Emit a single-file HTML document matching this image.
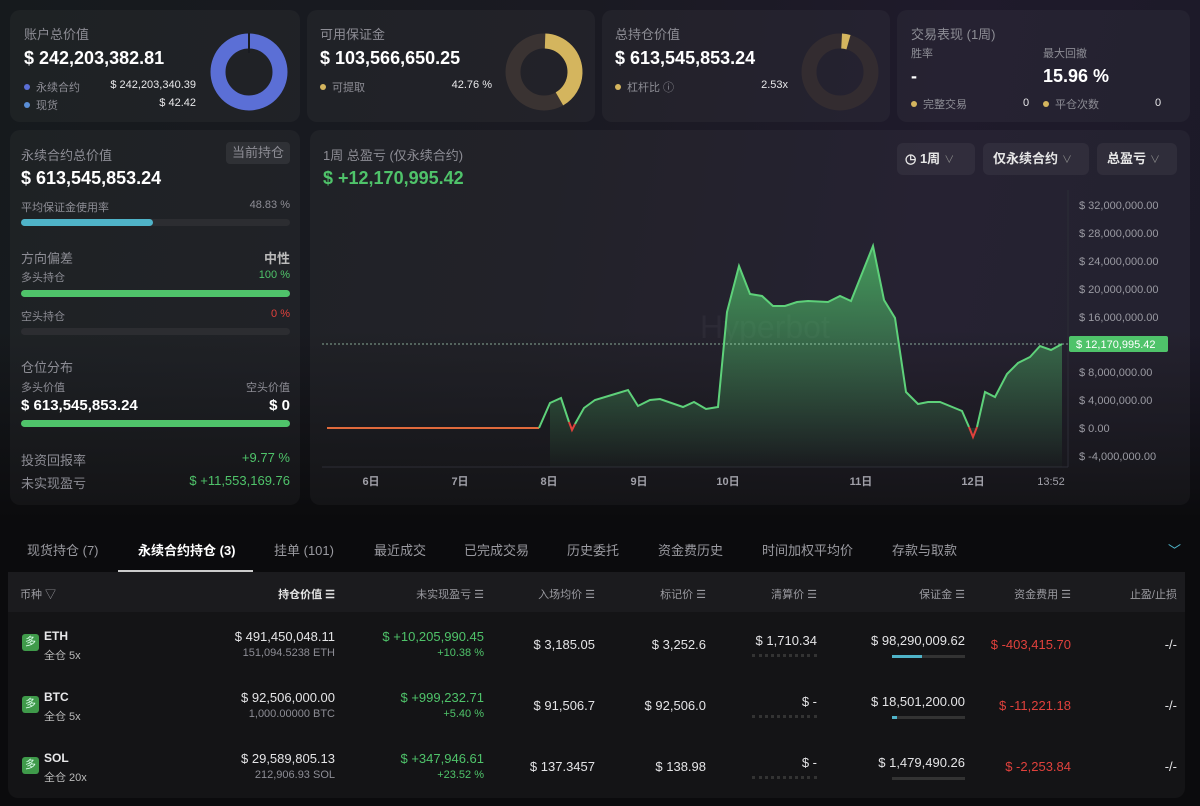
<!DOCTYPE html>
<html><head><meta charset="utf-8">
<style>
*{margin:0;padding:0;box-sizing:border-box}
body{width:1200px;height:806px;overflow:hidden;background:#0b0b0d;font-family:"Liberation Sans","Noto Sans CJK SC",sans-serif;color:#e8e8ea;position:relative}
.bg{position:absolute;left:0;top:0;width:1200px;height:515px;background:linear-gradient(100deg,#161a1d 0%,#1a1a22 45%,#1f1a2b 75%,#1c1a28 100%)}
.bg2{position:absolute;left:0;top:330px;width:1200px;height:190px;background:linear-gradient(180deg,rgba(11,11,13,0),#0b0b0d)}
.a{position:absolute;white-space:nowrap}
.card{position:absolute;background:rgba(255,255,255,0.035);border-radius:10px}
.g{color:#8d8d95}
.lbl{font-size:13px;color:#8d8d95}
.big{font-size:18px;font-weight:bold;color:#fff}
.s{font-size:11px}
.dot{display:inline-block;width:6px;height:6px;border-radius:3px;margin-right:6px;vertical-align:1px}
.bar{position:absolute;height:7px;border-radius:4px;background:#2c2d31}
.th{font-size:11px;color:#9a9aa0}
.r{text-align:right}
.cell{font-size:13px;color:#e4e4e6}
.a.gr,.cell.gr{color:#4fc36a}.a.rd,.cell.rd{color:#e0413c}
.btn{position:absolute;top:143px;height:32px;background:rgba(255,255,255,0.05);border-radius:6px;font-size:13px;font-weight:bold;color:#e6e6e6;line-height:32px}
.chev{color:#888;font-weight:normal;font-size:10px;margin-left:4px}
</style></head><body>
<div class="bg"></div><div class="bg2"></div>

<div class="card" style="left:10px;top:10px;width:290px;height:112px"></div>
<div class="card" style="left:307px;top:10px;width:288px;height:112px"></div>
<div class="card" style="left:602px;top:10px;width:288px;height:112px"></div>
<div class="card" style="left:897px;top:10px;width:293px;height:112px"></div>

<div class="a lbl" style="left:24px;top:24px">账户总价值</div>
<div class="a big" style="left:24px;top:48px">$ 242,203,382.81</div>
<div class="a s g" style="left:24px;top:79px"><span class="dot" style="background:#5b6fd6"></span>永续合约</div>
<div class="a s" style="left:110px;top:79px;width:86px;text-align:right">$ 242,203,340.39</div>
<div class="a s g" style="left:24px;top:97px"><span class="dot" style="background:#5a8ed6"></span>现货</div>
<div class="a s" style="left:110px;top:97px;width:86px;text-align:right">$ 42.42</div>
<svg class="a" style="left:205px;top:28px" width="90" height="90" viewBox="0 0 90 90">
<circle cx="44" cy="44" r="31" fill="none" stroke="#5b6fd6" stroke-width="15"/>
<rect x="43" y="5" width="2" height="20" fill="#1a1c21"/></svg>

<div class="a lbl" style="left:320px;top:24px">可用保证金</div>
<div class="a big" style="left:320px;top:48px">$ 103,566,650.25</div>
<div class="a s g" style="left:320px;top:79px"><span class="dot" style="background:#d4b55e"></span>可提取</div>
<div class="a s" style="left:400px;top:79px;width:92px;text-align:right">42.76 %</div>
<svg class="a" style="left:500px;top:28px" width="90" height="90" viewBox="0 0 90 90">
<circle cx="44" cy="44" r="31" fill="none" stroke="#3a3332" stroke-width="15"/>
<circle cx="44" cy="44" r="31" fill="none" stroke="#d4b55e" stroke-width="15" stroke-dasharray="80 200" transform="rotate(-88 44 44)"/></svg>

<div class="a lbl" style="left:615px;top:24px">总持仓价值</div>
<div class="a big" style="left:615px;top:48px">$ 613,545,853.24</div>
<div class="a s g" style="left:615px;top:79px"><span class="dot" style="background:#d4b55e"></span>杠杆比 ⓘ</div>
<div class="a s" style="left:700px;top:79px;width:88px;text-align:right">2.53x</div>
<svg class="a" style="left:796px;top:28px" width="90" height="90" viewBox="0 0 90 90">
<circle cx="44" cy="44" r="31" fill="none" stroke="#332c30" stroke-width="15"/>
<circle cx="44" cy="44" r="31" fill="none" stroke="#d4b55e" stroke-width="15" stroke-dasharray="7 200" transform="rotate(-87 44 44)"/></svg>

<div class="a lbl" style="left:911px;top:24px">交易表现 (1周)</div>
<div class="a s g" style="left:911px;top:45px">胜率</div>
<div class="a s g" style="left:1043px;top:45px">最大回撤</div>
<div class="a big" style="left:911px;top:66px">-</div>
<div class="a big" style="left:1043px;top:66px">15.96 %</div>
<div class="a s g" style="left:911px;top:96px"><span class="dot" style="background:#d4b55e"></span>完整交易</div>
<div class="a s" style="left:1023px;top:97px">0</div>
<div class="a s g" style="left:1043px;top:96px"><span class="dot" style="background:#d4b55e"></span>平仓次数</div>
<div class="a s" style="left:1155px;top:97px">0</div>

<div class="card" style="left:10px;top:130px;width:290px;height:375px"></div>
<div class="a lbl" style="left:21px;top:145px">永续合约总价值</div>
<div class="a" style="left:226px;top:142px;width:64px;height:22px;background:rgba(255,255,255,0.07);border-radius:4px;font-size:13px;color:#8d8d95;text-align:center;line-height:22px">当前持仓</div>
<div class="a big" style="left:21px;top:168px">$ 613,545,853.24</div>
<div class="a s g" style="left:21px;top:199px">平均保证金使用率</div>
<div class="a s g" style="left:230px;top:199px;width:60px;text-align:right">48.83 %</div>
<div class="bar" style="left:21px;top:219px;width:269px"></div>
<div class="bar" style="left:21px;top:219px;width:132px;background:#4fb3c8"></div>
<div class="a lbl" style="left:21px;top:248px">方向偏差</div>
<div class="a" style="left:230px;top:248px;width:60px;text-align:right;font-size:13px;font-weight:bold;color:#bbb">中性</div>
<div class="a s g" style="left:21px;top:269px">多头持仓</div>
<div class="a s gr" style="left:230px;top:269px;width:60px;text-align:right">100 %</div>
<div class="bar" style="left:21px;top:290px;width:269px;background:#4fc36a"></div>
<div class="a s g" style="left:21px;top:308px">空头持仓</div>
<div class="a s rd" style="left:230px;top:308px;width:60px;text-align:right">0 %</div>
<div class="bar" style="left:21px;top:328px;width:269px"></div>
<div class="a lbl" style="left:21px;top:357px">仓位分布</div>
<div class="a s g" style="left:21px;top:379px">多头价值</div>
<div class="a s g" style="left:230px;top:379px;width:60px;text-align:right">空头价值</div>
<div class="a" style="left:21px;top:397px;font-size:15px;font-weight:bold;color:#fff">$ 613,545,853.24</div>
<div class="a" style="left:230px;top:397px;width:60px;text-align:right;font-size:15px;font-weight:bold;color:#fff">$ 0</div>
<div class="bar" style="left:21px;top:420px;width:269px;background:#4fc36a"></div>
<div class="a lbl" style="left:21px;top:450px">投资回报率</div>
<div class="a gr" style="left:180px;top:450px;width:110px;text-align:right;font-size:13px">+9.77 %</div>
<div class="a lbl" style="left:21px;top:473px">未实现盈亏</div>
<div class="a gr" style="left:150px;top:473px;width:140px;text-align:right;font-size:13px">$ +11,553,169.76</div>

<div class="card" style="left:310px;top:130px;width:880px;height:375px"></div>
<div class="a lbl" style="left:323px;top:145px">1周 总盈亏 (仅永续合约)</div>
<div class="a gr" style="left:323px;top:168px;font-size:18px;font-weight:bold">$ +12,170,995.42</div>
<div class="btn" style="left:897px;width:78px;padding-left:8px">◷ 1周<span class="chev">∨</span></div>
<div class="btn" style="left:983px;width:106px;padding-left:10px">仅永续合约<span class="chev">∨</span></div>
<div class="btn" style="left:1097px;width:80px;padding-left:10px">总盈亏<span class="chev">∨</span></div>

<svg class="a" style="left:0;top:0" width="1200" height="515">
<defs><linearGradient id="gf" x1="0" y1="0" x2="0" y2="1">
<stop offset="0" stop-color="#4fc36a" stop-opacity="0.75"/><stop offset="1" stop-color="#4fc36a" stop-opacity="0.02"/></linearGradient></defs>
<line x1="1068" y1="190" x2="1068" y2="467" stroke="#2c2d36"/>
<line x1="322" y1="467" x2="1068" y2="467" stroke="#2c2d36"/>
<text x="700" y="338" font-size="32" fill="#fff" fill-opacity="0.04" font-family="Liberation Sans">Hyperbot</text>
<path d="M550,428 L550,403 L561,398 L572,428 L584,408 L595,400 L615,394 L628,390 L638,406 L650,400 L660,399 L683,407 L694,402 L706,409 L718,407 L727,312 L739,266 L750,294 L762,296 L773,306 L785,306 L797,302 L808,301 L828,302 L840,296 L851,301 L873,246 L884,300 L895,318 L906,392 L918,404 L928,402 L940,402 L962,411 L970,428 L976,428 L985,392 L995,397 L1007,374 L1018,363 L1030,357 L1040,346 L1051,350 L1062,344 L1062,467 L550,467 Z" fill="url(#gf)"/>
<line x1="322" y1="344" x2="1068" y2="344" stroke="#cfd" stroke-opacity="0.6" stroke-dasharray="2 2"/>
<polyline points="327,428 539,428" fill="none" stroke="#e06a3c" stroke-width="2"/>
<polyline points="539,428 550,403 561,398 569,422" fill="none" stroke="#5ed17a" stroke-width="2"/>
<polyline points="569,422 572,430 575,424" fill="none" stroke="#e0413c" stroke-width="2"/>
<polyline points="575,424 584,408 595,400 615,394 628,390 638,406 650,400 660,399 683,407 694,402 706,409 718,407 727,312 739,266 750,294 762,296 773,306 785,306 797,302 808,301 828,302 840,296 851,301 873,246 884,300 895,318 906,392 918,404 928,402 940,402 962,411 969,427" fill="none" stroke="#5ed17a" stroke-width="2"/>
<polyline points="969,427 973,437 977,427" fill="none" stroke="#e0413c" stroke-width="2"/>
<polyline points="977,427 985,392 995,397 1007,374 1018,363 1030,357 1040,346 1051,350 1062,344" fill="none" stroke="#5ed17a" stroke-width="2"/>
<g font-size="11" fill="#9a9aa2" font-family="Liberation Sans">
<text x="1079" y="209">$ 32,000,000.00</text><text x="1079" y="237">$ 28,000,000.00</text>
<text x="1079" y="265">$ 24,000,000.00</text><text x="1079" y="293">$ 20,000,000.00</text>
<text x="1079" y="321">$ 16,000,000.00</text><text x="1079" y="376">$ 8,000,000.00</text>
<text x="1079" y="404">$ 4,000,000.00</text><text x="1079" y="432">$ 0.00</text>
<text x="1079" y="460">$ -4,000,000.00</text>
</g>
<rect x="1069" y="336" width="99" height="16" rx="2" fill="#4fc36a"/>
<text x="1076" y="348" font-size="11" fill="#fff" font-family="Liberation Sans">$ 12,170,995.42</text>
<g font-size="11" fill="#a0a0a8" font-weight="bold" font-family="Liberation Sans,Noto Sans CJK SC" text-anchor="middle">
<text x="371" y="485">6日</text><text x="460" y="485">7日</text><text x="549" y="485">8日</text>
<text x="639" y="485">9日</text><text x="728" y="485">10日</text><text x="861" y="485">11日</text>
<text x="973" y="485">12日</text><text x="1051" y="485" font-weight="normal">13:52</text></g>
</svg>

<div class="a" style="left:0;top:540px;width:1200px;font-size:13px;color:#9a9aa0">
<span class="a" style="left:27px">现货持仓 (7)</span>
<span class="a" style="left:138px;color:#fff;font-weight:bold">永续合约持仓 (3)</span>
<span class="a" style="left:274px">挂单 (101)</span>
<span class="a" style="left:374px">最近成交</span>
<span class="a" style="left:464px">已完成交易</span>
<span class="a" style="left:567px">历史委托</span>
<span class="a" style="left:658px">资金费历史</span>
<span class="a" style="left:762px">时间加权平均价</span>
<span class="a" style="left:892px">存款与取款</span>
<span class="a" style="left:1168px;color:#4fb3c8">﹀</span></div>
<div class="a" style="left:118px;top:570px;width:135px;height:2px;background:#ccc"></div>

<div class="a" style="left:8px;top:572px;width:1177px;height:226px;background:#141416;border-radius:0 0 10px 10px"></div>
<div class="a" style="left:8px;top:572px;width:1177px;height:40px;background:#1b1b1e"></div>
<div class="a th" style="left:20px;top:586px">币种 ▽</div>
<div class="a th r" style="left:235px;top:586px;width:100px;color:#e4e4e4;font-weight:bold">持仓价值 ☰</div>
<div class="a th r" style="left:384px;top:586px;width:100px">未实现盈亏 ☰</div>
<div class="a th r" style="left:495px;top:586px;width:100px">入场均价 ☰</div>
<div class="a th r" style="left:606px;top:586px;width:100px">标记价 ☰</div>
<div class="a th r" style="left:717px;top:586px;width:100px">清算价 ☰</div>
<div class="a th r" style="left:865px;top:586px;width:100px">保证金 ☰</div>
<div class="a th r" style="left:971px;top:586px;width:100px">资金费用 ☰</div>
<div class="a th r" style="left:1077px;top:586px;width:100px">止盈/止损</div>

<div class="a" style="left:22px;top:634px;width:17px;height:17px;background:#3f9a4a;border-radius:3px;font-size:11px;text-align:center;line-height:17px;color:#dfe">多</div>
<div class="a" style="left:44px;top:629px;font-size:12px;font-weight:bold">ETH</div>
<div class="a s" style="left:44px;top:647px;color:#bbb">全仓 5x</div>
<div class="a cell r" style="left:135px;top:629px;width:200px">$ 491,450,048.11</div>
<div class="a s g r" style="left:135px;top:647px;width:200px">151,094.5238 ETH</div>
<div class="a cell r gr" style="left:284px;top:629px;width:200px">$ +10,205,990.45</div>
<div class="a s r gr" style="left:284px;top:647px;width:200px">+10.38 %</div>
<div class="a cell r" style="left:395px;top:637px;width:200px">$ 3,185.05</div>
<div class="a cell r" style="left:506px;top:637px;width:200px">$ 3,252.6</div>
<div class="a cell r" style="left:617px;top:633px;width:200px">$ 1,710.34</div>
<div class="a" style="left:752px;top:654px;width:65px;border-top:3px dotted #333"></div>
<div class="a cell r" style="left:765px;top:633px;width:200px">$ 98,290,009.62</div>
<div class="a" style="left:892px;top:655px;width:73px;height:3px;background:#333"></div>
<div class="a" style="left:892px;top:655px;width:30px;height:3px;background:#4fb3c8"></div>
<div class="a cell r rd" style="left:871px;top:637px;width:200px">$ -403,415.70</div>
<div class="a cell r" style="left:977px;top:637px;width:200px">-/-</div>

<div class="a" style="left:22px;top:696px;width:17px;height:17px;background:#3f9a4a;border-radius:3px;font-size:11px;text-align:center;line-height:17px;color:#dfe">多</div>
<div class="a" style="left:44px;top:690px;font-size:12px;font-weight:bold">BTC</div>
<div class="a s" style="left:44px;top:708px;color:#bbb">全仓 5x</div>
<div class="a cell r" style="left:135px;top:690px;width:200px">$ 92,506,000.00</div>
<div class="a s g r" style="left:135px;top:708px;width:200px">1,000.00000 BTC</div>
<div class="a cell r gr" style="left:284px;top:690px;width:200px">$ +999,232.71</div>
<div class="a s r gr" style="left:284px;top:708px;width:200px">+5.40 %</div>
<div class="a cell r" style="left:395px;top:698px;width:200px">$ 91,506.7</div>
<div class="a cell r" style="left:506px;top:698px;width:200px">$ 92,506.0</div>
<div class="a cell r" style="left:617px;top:694px;width:200px">$ -</div>
<div class="a" style="left:752px;top:715px;width:65px;border-top:3px dotted #333"></div>
<div class="a cell r" style="left:765px;top:694px;width:200px">$ 18,501,200.00</div>
<div class="a" style="left:892px;top:716px;width:73px;height:3px;background:#333"></div>
<div class="a" style="left:892px;top:716px;width:5px;height:3px;background:#4fb3c8"></div>
<div class="a cell r rd" style="left:871px;top:698px;width:200px">$ -11,221.18</div>
<div class="a cell r" style="left:977px;top:698px;width:200px">-/-</div>

<div class="a" style="left:22px;top:757px;width:17px;height:17px;background:#3f9a4a;border-radius:3px;font-size:11px;text-align:center;line-height:17px;color:#dfe">多</div>
<div class="a" style="left:44px;top:751px;font-size:12px;font-weight:bold">SOL</div>
<div class="a s" style="left:44px;top:769px;color:#bbb">全仓 20x</div>
<div class="a cell r" style="left:135px;top:751px;width:200px">$ 29,589,805.13</div>
<div class="a s g r" style="left:135px;top:769px;width:200px">212,906.93 SOL</div>
<div class="a cell r gr" style="left:284px;top:751px;width:200px">$ +347,946.61</div>
<div class="a s r gr" style="left:284px;top:769px;width:200px">+23.52 %</div>
<div class="a cell r" style="left:395px;top:759px;width:200px">$ 137.3457</div>
<div class="a cell r" style="left:506px;top:759px;width:200px">$ 138.98</div>
<div class="a cell r" style="left:617px;top:755px;width:200px">$ -</div>
<div class="a" style="left:752px;top:776px;width:65px;border-top:3px dotted #333"></div>
<div class="a cell r" style="left:765px;top:755px;width:200px">$ 1,479,490.26</div>
<div class="a" style="left:892px;top:777px;width:73px;height:3px;background:#333"></div>
<div class="a cell r rd" style="left:871px;top:759px;width:200px">$ -2,253.84</div>
<div class="a cell r" style="left:977px;top:759px;width:200px">-/-</div>
</body></html>
